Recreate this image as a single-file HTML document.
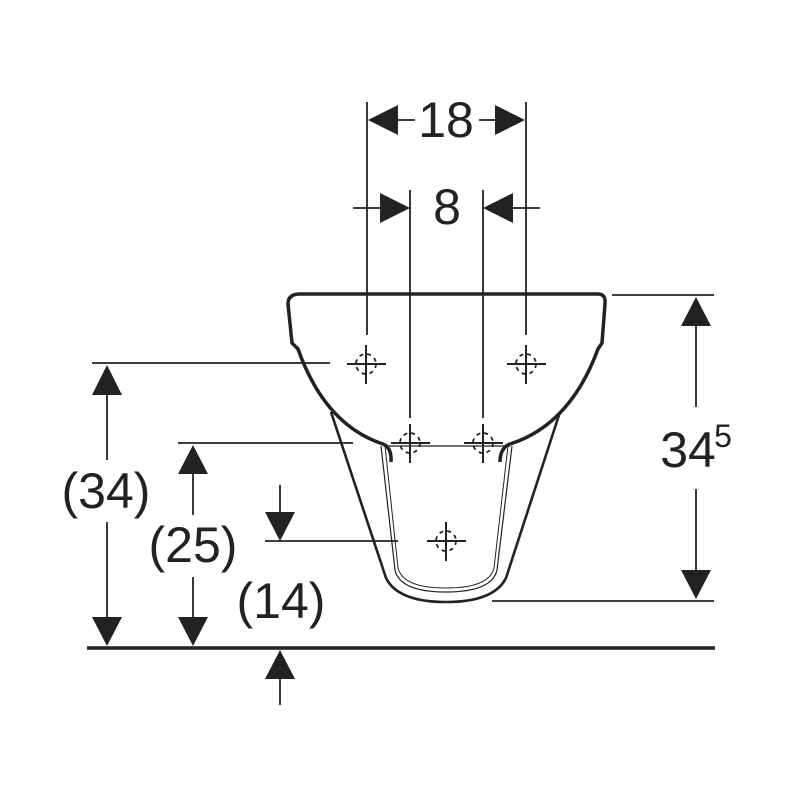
<!DOCTYPE html>
<html><head><meta charset="utf-8"><style>html,body{margin:0;padding:0;background:#fff}svg{display:block}text{font-family:"Liberation Sans",sans-serif;fill:#222}</style></head>
<body>
<svg width="800" height="800" viewBox="0 0 800 800" xmlns="http://www.w3.org/2000/svg">
<defs>
<g id="ch"><line x1="-19" y1="0" x2="20" y2="0" stroke="#222" stroke-width="2"/><line x1="0" y1="-19" x2="0" y2="20" stroke="#222" stroke-width="2"/><circle r="10" fill="none" stroke="#222" stroke-width="1.8" stroke-dasharray="4 4"/></g>
</defs>
<g stroke="#222" fill="none" stroke-linecap="butt">
<line x1="367" y1="102" x2="367" y2="335" stroke-width="1.8"/>
<line x1="526" y1="102" x2="526" y2="335" stroke-width="1.8"/>
<line x1="410" y1="190" x2="410" y2="418" stroke-width="1.8"/>
<line x1="483" y1="190" x2="483" y2="418" stroke-width="1.8"/>
<line x1="397" y1="120" x2="415" y2="120" stroke-width="1.8"/>
<line x1="479" y1="120" x2="497" y2="120" stroke-width="1.8"/>
<line x1="353" y1="208" x2="380" y2="208" stroke-width="1.8"/>
<line x1="513" y1="208" x2="540" y2="208" stroke-width="1.8"/>
<path d="M300 294 L598 294 Q606 294 605 304 L602 343 L598 349 Q570 425 510 444 Q500 448 500 462" stroke-width="3.5"/>
<path d="M300 294 Q288 294 288 304 L292 343 L298 349 Q325 425 383 444 Q392 448 391 462" stroke-width="3.5"/>
<line x1="385" y1="446" x2="510" y2="446" stroke-width="1.2"/>
<path d="M331 412 L386 578 Q398 602 446 602 Q494 602 506 578 L560 412" stroke-width="2.6"/>
<path d="M381 446 L395 570 Q400 592 446 592 Q492 592 497 570 L512 446" stroke-width="1.2"/>
<path d="M385 446 L398 568 Q403 588 446 588 Q489 588 494 568 L508 446" stroke-width="1"/>
<line x1="92" y1="363" x2="330" y2="363" stroke-width="1.8"/>
<line x1="178" y1="443" x2="353" y2="443" stroke-width="1.8"/>
<line x1="265" y1="541" x2="398" y2="541" stroke-width="1.8"/>
<line x1="492" y1="601" x2="714" y2="601" stroke-width="1.8"/>
<line x1="612" y1="295" x2="714" y2="295" stroke-width="1.8"/>
<line x1="87" y1="648" x2="715" y2="648" stroke-width="3.5"/>
<line x1="107" y1="392" x2="107" y2="460" stroke-width="1.8"/>
<line x1="107" y1="522" x2="107" y2="620" stroke-width="1.8"/>
<line x1="193" y1="472" x2="193" y2="515" stroke-width="1.8"/>
<line x1="193" y1="577" x2="193" y2="620" stroke-width="1.8"/>
<line x1="280" y1="485" x2="280" y2="513" stroke-width="1.8"/>
<line x1="280" y1="676" x2="280" y2="705" stroke-width="1.8"/>
<line x1="696" y1="324" x2="696" y2="407" stroke-width="1.8"/>
<line x1="696" y1="489" x2="696" y2="572" stroke-width="1.8"/>
</g>
<g fill="#222">
<polygon points="368,120 398,105 398,135"/>
<polygon points="525,120 495,105 495,135"/>
<polygon points="410,208 380,193 380,223"/>
<polygon points="483,208 513,193 513,223"/>
<polygon points="107,365 92,395 122,395"/>
<polygon points="107,646 92,617 122,617"/>
<polygon points="193,445 178,474 208,474"/>
<polygon points="193,646 178,617 208,617"/>
<polygon points="280,541 265,512 295,512"/>
<polygon points="280,650 265,679 295,679"/>
<polygon points="696,297 681,326 711,326"/>
<polygon points="696,599 681,570 711,570"/>
</g>
<use href="#ch" x="366" y="364"/>
<use href="#ch" x="526" y="364"/>
<use href="#ch" x="410" y="443"/>
<use href="#ch" x="483" y="443"/>
<use href="#ch" x="446" y="541"/>
<g font-size="50" text-anchor="middle">
<text x="446" y="137">18</text>
<text x="447" y="224">8</text>
<text x="106" y="508">(34)</text>
<text x="193" y="562">(25)</text>
<text x="281" y="618">(14)</text>
<text x="688" y="467">34</text>
</g>
<text x="723" y="447" font-size="32" text-anchor="middle">5</text>
</svg>
</body></html>
